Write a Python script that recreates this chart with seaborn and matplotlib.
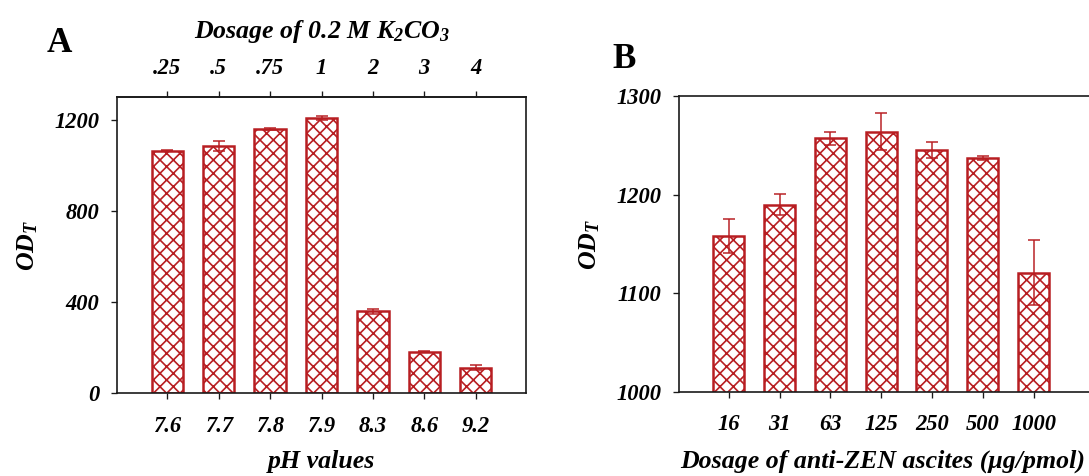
import matplotlib
matplotlib.use("Agg")
import matplotlib.pyplot as plt
import seaborn as sns
import pandas as pd
import numpy as np

# ---- data ----
ph_labels = ["7.6", "7.7", "7.8", "7.9", "8.3", "8.6", "9.2"]
k2co3_labels = [".25", ".5", ".75", "1", "2", "3", "4"]
odt_a = [1065, 1083, 1160, 1208, 358, 182, 111]
err_a = [3, 22, 5, 10, 10, 3, 10]

ascites_labels = ["16", "31", "63", "125", "250", "500", "1000"]
odt_b = [1158, 1190, 1257, 1264, 1245, 1237, 1121]
err_b = [17, 11, 7, 19, 8, 2, 33]

RED = "#B81E22"

sns.set_theme(style="white")
plt.rcParams["font.family"] = ["Liberation Serif", "DejaVu Serif"]
plt.rcParams["font.weight"] = "bold"
plt.rcParams["font.style"] = "italic"
plt.rcParams["axes.labelweight"] = "bold"
plt.rcParams["text.color"] = "black"
plt.rcParams["axes.labelcolor"] = "black"
plt.rcParams["xtick.color"] = "black"
plt.rcParams["ytick.color"] = "black"
plt.rcParams["mathtext.fontset"] = "custom"
plt.rcParams["mathtext.rm"] = "Liberation Serif:bold:italic"
plt.rcParams["mathtext.it"] = "Liberation Serif:bold:italic"
plt.rcParams["mathtext.bf"] = "Liberation Serif:bold:italic"
plt.rcParams["hatch.color"] = RED
plt.rcParams["hatch.linewidth"] = 1.0

W, H = 1089, 476
DPI = 120
fig = plt.figure(figsize=(W / DPI, H / DPI), dpi=DPI)

def frac(l, t, r, b):
    return [l / W, 1 - b / H, (r - l) / W, (b - t) / H]

axA = fig.add_axes(frac(117, 97, 526, 393))
axB = fig.add_axes(frac(679, 96, 1092, 392))

TICK_FS = 13.5
LAB_FS = 15.5

def draw(ax, labels, vals, errs):
    df = pd.DataFrame({"x": labels, "y": vals})
    sns.barplot(data=df, x="x", y="y", ax=ax, color="white", width=0.61,
                edgecolor=RED, linewidth=1.5, order=labels)
    for p in ax.patches:
        p.set_hatch("xxx")
        p.set_facecolor("white")
        p.set_edgecolor(RED)
    ax.errorbar(np.arange(len(vals)), vals, yerr=errs, fmt="none",
                ecolor=RED, elinewidth=0.9, capsize=3.5, capthick=0.9, zorder=5)
    for s in ax.spines.values():
        s.set_color("#1a1a1a")
        s.set_linewidth(1.0)
    ax.tick_params(axis="both", which="major", direction="out", length=3.5,
                   width=0.8, color="#1a1a1a", labelcolor="black",
                   labelsize=TICK_FS, pad=3)
    ax.tick_params(axis="x", bottom=True, pad=10)
    ax.tick_params(axis="y", left=True, pad=7)
    for lab in ax.get_xticklabels() + ax.get_yticklabels():
        lab.set_fontstyle("italic")
        lab.set_fontweight("bold")

# ---- Panel A ----
draw(axA, ph_labels, odt_a, err_a)
axA.set_xlim(-0.98, 6.98)
axA.set_ylim(0, 1300)
axA.set_yticks([0, 400, 800, 1200])
axA.set_xlabel("pH values", fontsize=LAB_FS, fontweight="bold")
axA.xaxis.set_label_coords(0.5, -0.192)
axA.set_ylabel("$OD_T$", fontsize=LAB_FS, labelpad=9)
sec = axA.secondary_xaxis("top")
sec.set_xticks(np.arange(len(k2co3_labels)), labels=k2co3_labels)
sec.tick_params(direction="out", length=3.5, width=0.8, color="#1a1a1a",
                labelcolor="black", labelsize=TICK_FS, pad=7)
for lab in sec.get_xticklabels():
    lab.set_fontstyle("italic")
    lab.set_fontweight("bold")
sec.spines["top"].set_linewidth(1.0)
sec.spines["top"].set_color("#1a1a1a")
sec.set_xlabel("Dosage of 0.2 M K$_2$CO$_3$", fontsize=LAB_FS, fontweight="bold",
               labelpad=12)
fig.text(47 / W, 1 - 44 / H, "A", fontsize=21, fontweight="bold",
         fontstyle="normal", va="center", ha="left", color="black")

# ---- Panel B ----
draw(axB, ascites_labels, odt_b, err_b)
axB.set_xlim(-0.98, 7.15)
axB.set_ylim(1000, 1300)
axB.set_yticks([1000, 1100, 1200, 1300])
axB.spines["right"].set_visible(False)
axB.set_xlabel("Dosage of anti-ZEN ascites (\u03bcg/pmol)", fontsize=LAB_FS,
               fontweight="bold")
axB.xaxis.set_label_coords((883 - 679) / (1092 - 679), -0.195)
axB.set_ylabel("$OD_T$", fontsize=LAB_FS, labelpad=9)
fig.text(612 / W, 1 - 60 / H, "B", fontsize=21, fontweight="bold",
         fontstyle="normal", va="center", ha="left", color="black")

fig.savefig("out.png", dpi=DPI)
